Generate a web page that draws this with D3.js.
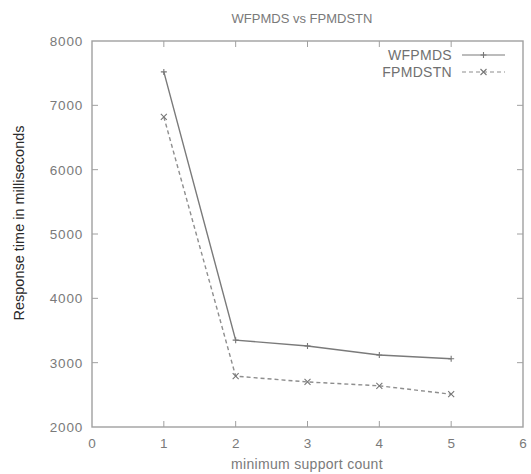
<!DOCTYPE html>
<html><head><meta charset="utf-8">
<script src="https://cdn.jsdelivr.net/npm/d3@7"></script>
<style>body{margin:0;background:#fff}svg{display:block}</style>
</head><body>
<svg id="c" width="531" height="474"></svg>
<script>
const xValues = [1, 2, 3, 4, 5];
const wfpmds = [7520, 3350, 3260, 3120, 3060];
const fpmdstn = [6820, 2790, 2700, 2640, 2510];
const xTicks = [0, 1, 2, 3, 4, 5, 6];
const yTicks = [2000, 3000, 4000, 5000, 6000, 7000, 8000];
const seriesNames = ["WFPMDS", "FPMDSTN"];

const svg = d3.select("#c");
const L = 92, R = 523, T = 41, B = 427;
const x = d3.scaleLinear().domain([0, 6]).range([L, R]);
const y = d3.scaleLinear().domain([2000, 8000]).range([B, T]);
const txt = "#7a7a7a";
const font = "'Liberation Sans', Arial, sans-serif";

svg.append("rect").attr("x", L).attr("y", T).attr("width", R - L).attr("height", B - T)
  .attr("fill", "none").attr("stroke", "#a0a0a0").attr("stroke-width", 1.4);

// ticks (mirrored, inward)
const tl = 6;
const g = svg.append("g").attr("stroke", "#a0a0a0").attr("stroke-width", 1);
xTicks.slice(1, -1).forEach(t => {
  g.append("line").attr("x1", x(t)).attr("x2", x(t)).attr("y1", B).attr("y2", B - tl);
  g.append("line").attr("x1", x(t)).attr("x2", x(t)).attr("y1", T).attr("y2", T + tl);
});
yTicks.slice(1, -1).forEach(t => {
  g.append("line").attr("x1", L).attr("x2", L + tl).attr("y1", y(t)).attr("y2", y(t));
  g.append("line").attr("x1", R).attr("x2", R - tl).attr("y1", y(t)).attr("y2", y(t));
});

svg.append("g").selectAll("text").data(xTicks).join("text")
  .attr("x", d => x(d)).attr("y", B + 21).attr("text-anchor", "middle")
  .attr("font-family", font).attr("font-size", 13.5).attr("fill", txt).text(d => d);
svg.append("g").selectAll("text").data(yTicks).join("text")
  .attr("x", L - 9).attr("y", d => y(d) + 5).attr("text-anchor", "end")
  .attr("font-family", font).attr("font-size", 13.5).attr("letter-spacing", 0.8).attr("fill", txt).text(d => d);

svg.append("text").attr("x", 302).attr("y", 23).attr("text-anchor", "middle")
  .attr("font-family", font).attr("font-size", 13).attr("fill", txt).text("WFPMDS vs FPMDSTN");
svg.append("text").attr("x", 307).attr("y", 469).attr("text-anchor", "middle")
  .attr("font-family", font).attr("font-size", 14).attr("letter-spacing", 0.3).attr("fill", txt).text("minimum support count");
svg.append("text").attr("transform", `translate(24,223) rotate(-90)`).attr("text-anchor", "middle")
  .attr("font-family", font).attr("font-size", 14.5).attr("fill", "#2a2a2a").text("Response time in milliseconds");

const line = d3.line().x((d, i) => x(xValues[i])).y(d => y(d));
const data = [wfpmds, fpmdstn];
const dash = [null, "4,3"];
const cols = ["#7a7a7a", "#8e8e8e"];
data.forEach((s, k) => {
  svg.append("path").attr("d", line(s)).attr("fill", "none").attr("stroke", cols[k])
    .attr("stroke-width", 1.4).attr("stroke-dasharray", dash[k]);
  s.forEach((v, i) => {
    const cx = x(xValues[i]), cy = y(v), r = 3;
    svg.append("path").attr("d", k === 0 ? `M${cx - r},${cy}H${cx + r}M${cx},${cy - r}V${cy + r}` :
      `M${cx - r},${cy - r}L${cx + r},${cy + r}M${cx - r},${cy + r}L${cx + r},${cy - r}`)
      .attr("stroke", "#777").attr("stroke-width", 1.1);
  });
});

// legend
seriesNames.forEach((n, k) => {
  const ly = 55 + k * 17;
  svg.append("text").attr("x", 452).attr("y", ly + 5).attr("text-anchor", "end")
    .attr("font-family", font).attr("font-size", 14).attr("letter-spacing", 0.3).attr("fill", "#707070").text(n);
  svg.append("line").attr("x1", 462).attr("x2", 505).attr("y1", ly).attr("y2", ly)
    .attr("stroke", cols[k]).attr("stroke-width", 1.2).attr("stroke-dasharray", dash[k]);
  const cx = 483.5, r = 3;
  svg.append("path").attr("d", k === 0 ? `M${cx - r},${ly}H${cx + r}M${cx},${ly - r}V${ly + r}` :
    `M${cx - r},${ly - r}L${cx + r},${ly + r}M${cx - r},${ly + r}L${cx + r},${ly - r}`).attr("stroke", "#777").attr("stroke-width", 1.1);
});
</script>
</body></html>
